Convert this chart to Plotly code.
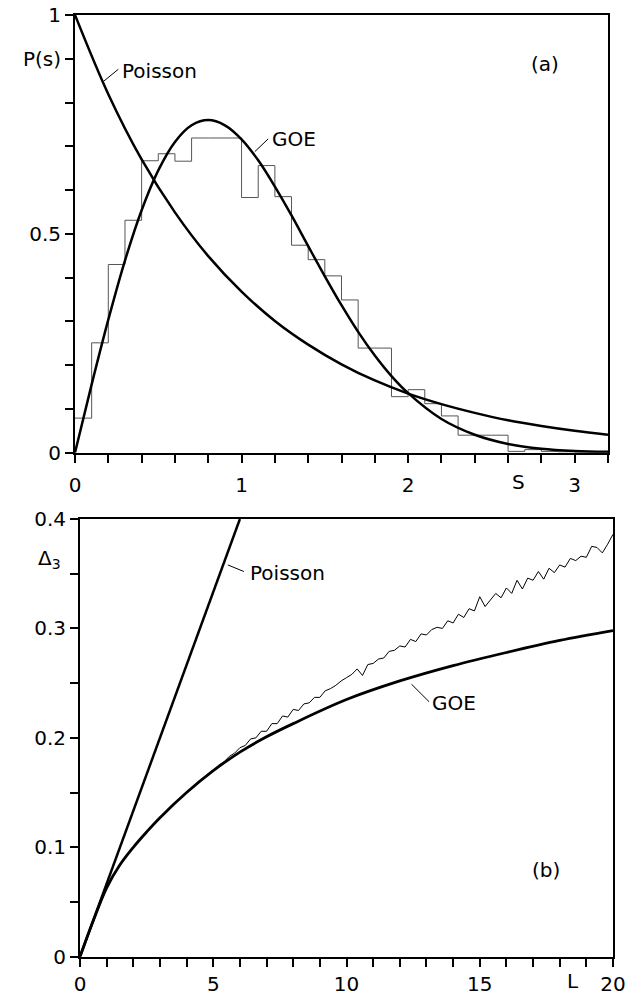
import plotly.graph_objects as go

# ---------------- panel (a): nearest-neighbour spacing distribution ----------------
HIST_EDGES = [round(0.1 * i, 1) for i in range(33)]
HIST_VALUES = [0.079, 0.251, 0.430, 0.531, 0.667, 0.683, 0.666, 0.719, 0.719, 0.719,
               0.583, 0.656, 0.585, 0.474, 0.441, 0.404, 0.349, 0.239, 0.239, 0.128,
               0.144, 0.112, 0.084, 0.040, 0.040, 0.040, 0.003, 0.007, 0.003, 0.002,
               0.001, 0.000]

POIS_S = [0.0, 0.2, 0.4, 0.6, 0.8, 1.0, 1.2, 1.4, 1.6, 1.8, 2.0, 2.2, 2.4, 2.6, 2.8, 3.0, 3.2]
POIS_P = [1.000, 0.819, 0.670, 0.549, 0.449, 0.368, 0.301, 0.247, 0.202, 0.165,
          0.135, 0.111, 0.091, 0.074, 0.061, 0.050, 0.041]

GOE_S = [0.0, 0.1, 0.2, 0.3, 0.4, 0.5, 0.6, 0.7, 0.8, 0.9, 1.0, 1.1, 1.2, 1.3, 1.4,
         1.5, 1.6, 1.7, 1.8, 1.9, 2.0, 2.2, 2.4, 2.6, 2.8, 3.0, 3.2]
GOE_P = [0.000, 0.156, 0.304, 0.439, 0.554, 0.645, 0.710, 0.748, 0.760, 0.748, 0.716,
         0.668, 0.608, 0.542, 0.472, 0.403, 0.337, 0.276, 0.222, 0.175, 0.136, 0.077,
         0.041, 0.020, 0.009, 0.004, 0.002]

# ---------------- panel (b): spectral rigidity Delta_3 ----------------
POIS_L = [0.0, 6.0]
POIS_D3 = [0.0, 0.4]

GOE_L = [0, 0.5, 1, 1.5, 2, 2.5, 3, 4, 5, 6, 7, 8, 10, 12, 14, 16, 18, 20]
GOE_D3 = [0.000, 0.033, 0.063, 0.084, 0.100, 0.114, 0.127, 0.150, 0.170, 0.187, 0.201,
          0.213, 0.235, 0.252, 0.266, 0.278, 0.289, 0.298]

DATA_L = [round(0.2 * i, 1) for i in range(101)]
DATA_D3 = [0.000, 0.013, 0.026, 0.039, 0.051, 0.063, 0.072, 0.080, 0.087, 0.094,
           0.100, 0.106, 0.111, 0.117, 0.122, 0.127, 0.132, 0.137, 0.141, 0.146,
           0.150, 0.154, 0.158, 0.162, 0.166, 0.170, 0.175, 0.178, 0.183, 0.186,
           0.191, 0.193, 0.199, 0.200, 0.206, 0.206, 0.213, 0.213, 0.220, 0.219,
           0.226, 0.225, 0.231, 0.232, 0.237, 0.237, 0.243, 0.245, 0.248, 0.252,
           0.255, 0.258, 0.263, 0.257, 0.267, 0.268, 0.272, 0.273, 0.279, 0.280,
           0.284, 0.283, 0.290, 0.288, 0.295, 0.294, 0.299, 0.301, 0.300, 0.307,
           0.305, 0.313, 0.310, 0.318, 0.316, 0.329, 0.320, 0.326, 0.332, 0.328,
           0.337, 0.332, 0.344, 0.336, 0.346, 0.344, 0.352, 0.345, 0.355, 0.351,
           0.358, 0.356, 0.364, 0.362, 0.366, 0.365, 0.375, 0.374, 0.369, 0.377,
           0.386]

# tick definitions (labelled ticks; unlabelled ticks drawn as minor ticks)
TOP_X_TICKS = [0, 1, 2, 3]
TOP_X_TEXT = ["0", "1", "2", "3"]
TOP_Y_TICKS = [0, 0.5, 0.9, 1]
TOP_Y_TEXT = ["0", "0.5", "P(s)", "1"]
BOT_X_TICKS = [0, 5, 10, 15, 20]
BOT_X_TEXT = ["0", "5", "10", "15", "20"]
BOT_Y_TICKS = [0, 0.1, 0.2, 0.3, 0.4]
BOT_Y_TEXT = ["0", "0.1", "0.2", "0.3", "0.4"]

FONT = dict(family="DejaVu Sans", size=20, color="black")
W, H = 629, 997

fig = go.Figure()

hist_y = HIST_VALUES + [HIST_VALUES[-1]]
fig.add_trace(go.Scatter(x=HIST_EDGES, y=hist_y, mode="lines", line=dict(color="#555555", width=1, shape="hv"),
                         xaxis="x", yaxis="y", showlegend=False))
fig.add_trace(go.Scatter(x=POIS_S, y=POIS_P, mode="lines", line=dict(color="black", width=2.5, shape="spline"),
                         xaxis="x", yaxis="y", showlegend=False))
fig.add_trace(go.Scatter(x=GOE_S, y=GOE_P, mode="lines", line=dict(color="black", width=2.5, shape="spline"),
                         xaxis="x", yaxis="y", showlegend=False))

fig.add_trace(go.Scatter(x=POIS_L, y=POIS_D3, mode="lines", line=dict(color="black", width=2.5),
                         xaxis="x2", yaxis="y2", showlegend=False))
fig.add_trace(go.Scatter(x=DATA_L, y=DATA_D3, mode="lines", line=dict(color="black", width=1),
                         xaxis="x2", yaxis="y2", showlegend=False))
fig.add_trace(go.Scatter(x=GOE_L, y=GOE_D3, mode="lines", line=dict(color="black", width=2.8, shape="spline"),
                         xaxis="x2", yaxis="y2", showlegend=False))


def axis(minor_dtick, **kw):
    d = dict(showgrid=False, zeroline=False, showline=True, linecolor="black", linewidth=2,
             mirror=True, ticks="outside", ticklen=8, tickwidth=2, tickcolor="black",
             tickfont=FONT, tickmode="array", automargin=False,
             minor=dict(ticks="outside", ticklen=8, tickwidth=2, tickcolor="black",
                        dtick=minor_dtick, tick0=0, showgrid=False))
    d.update(kw)
    return d


fig.update_layout(
    template="none",
    width=W, height=H,
    margin=dict(l=0, r=0, t=0, b=0, pad=0, autoexpand=False),
    paper_bgcolor="white", plot_bgcolor="white",
    font=FONT,
    showlegend=False,
    xaxis=axis(0.2, domain=[75 / W, 608 / W], range=[0, 3.2], tickvals=TOP_X_TICKS,
               ticktext=TOP_X_TEXT, anchor="y", ticklabelstandoff=5),
    yaxis=axis(0.1, domain=[1 - 452.7 / H, 1 - 15 / H], range=[0, 1], tickvals=TOP_Y_TICKS,
               ticktext=TOP_Y_TEXT, anchor="x"),
    xaxis2=axis(1, domain=[80 / W, 613 / W], range=[0, 20], tickvals=BOT_X_TICKS,
                ticktext=BOT_X_TEXT, anchor="y2", ticklabelstandoff=0),
    yaxis2=axis(0.05, domain=[1 - 956.7 / H, 1 - 519 / H], range=[0, 0.4], tickvals=BOT_Y_TICKS,
                ticktext=BOT_Y_TEXT, anchor="x2"),
)

ann = [
    dict(x=0.27, y=0.873, xref="x", yref="y", text="Poisson", xanchor="left", yanchor="middle"),
    dict(x=1.17, y=0.717, xref="x", yref="y", text="GOE", xanchor="left", yanchor="middle"),
    dict(x=2.82, y=0.889, xref="x", yref="y", text="(a)", xanchor="center", yanchor="middle"),
    dict(x=518 / W, y=1 - 482 / H, xref="paper", yref="paper", text="S", xanchor="center", yanchor="middle"),
    dict(x=6.3, y=0.351, xref="x2", yref="y2", text="Poisson", xanchor="left", yanchor="middle"),
    dict(x=13.12, y=0.232, xref="x2", yref="y2", text="GOE", xanchor="left", yanchor="middle"),
    dict(x=17.5, y=0.079, xref="x2", yref="y2", text="(b)", xanchor="center", yanchor="middle"),
    dict(x=573 / W, y=1 - 981 / H, xref="paper", yref="paper", text="L", xanchor="center", yanchor="middle"),
    dict(x=63 / W, y=1 - 559 / H, xref="paper", yref="paper", text="Δ<sub>3</sub>", xanchor="right",
         yanchor="middle"),
]
for a in ann:
    a.update(showarrow=False, font=FONT)
fig.update_layout(annotations=ann)

shapes = [
    dict(type="line", xref="x", yref="y", x0=0.17, y0=0.848, x1=0.26, y1=0.876),
    dict(type="line", xref="x", yref="y", x0=1.08, y0=0.688, x1=1.16, y1=0.717),
    dict(type="line", xref="x2", yref="y2", x0=5.55, y0=0.358, x1=6.15, y1=0.352),
    dict(type="line", xref="x2", yref="y2", x0=12.44, y0=0.249, x1=13.1, y1=0.233),
]
for s in shapes:
    s.update(line=dict(color="black", width=1))
fig.update_layout(shapes=shapes)

fig.write_html("out.html")
